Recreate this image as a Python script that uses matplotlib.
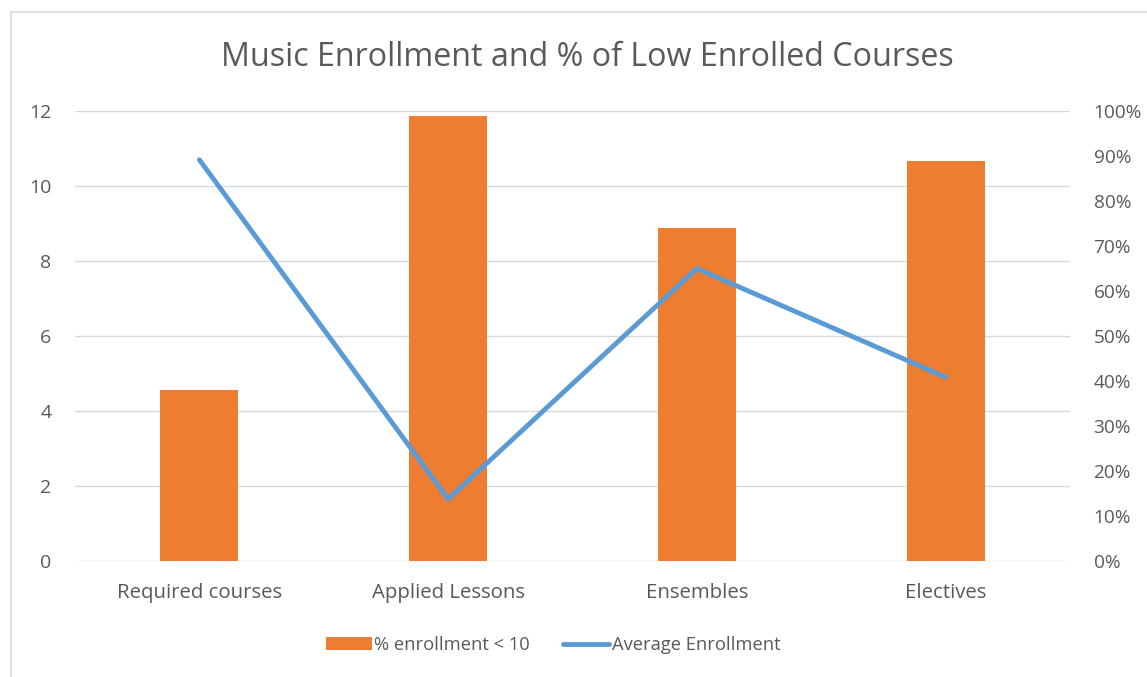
import matplotlib
matplotlib.use("Agg")
import matplotlib.pyplot as plt
from matplotlib.lines import Line2D
from matplotlib.patches import Patch
from matplotlib.ticker import FuncFormatter, MultipleLocator
import numpy as np

categories = ["Required courses", "Applied Lessons", "Ensembles", "Electives"]
pct_enrollment_under_10 = [0.38, 0.99, 0.74, 0.89]
average_enrollment = [10.7, 1.65, 7.8, 4.9]

title = "Music Enrollment and % of Low Enrolled Courses"
bar_label = "% enrollment < 10"
line_label = "Average Enrollment"

ORANGE = "#ED7D31"
BLUE = "#5B9BD5"
TEXT = "#595959"
GRID = "#D9D9D9"
FONT = "Open Sans"

plt.rcParams["font.family"] = FONT

W, H, DPI = 1147, 677, 100
fig = plt.figure(figsize=(W / DPI, H / DPI), dpi=DPI)

rect = [75 / W, 1 - 561 / H, 995 / W, 450 / H]
x = np.arange(len(categories))

# Left axis: average enrollment scale + gridlines (drawn at the back)
ax = fig.add_axes(rect)
ax.set_zorder(0)
ax.set_xlim(-0.5, len(categories) - 0.5)
ax.set_ylim(0, 12)
ax.yaxis.set_major_locator(MultipleLocator(2))
ax.grid(axis="y", color=GRID, linewidth=1.0)
for s in ax.spines.values():
    s.set_visible(False)
ax.tick_params(axis="y", length=0, pad=17, labelsize=14, labelcolor=TEXT)
ax.tick_params(axis="x", length=0, pad=16, labelsize=14.7, labelcolor=TEXT)
ax.set_xticks(x)
ax.set_xticklabels(categories)

# Right axis: percentage bars
ax2 = ax.twinx()
ax2.set_zorder(1)
ax2.patch.set_visible(False)
ax2.set_ylim(0, 1)
ax2.yaxis.set_major_locator(MultipleLocator(0.1))
ax2.yaxis.set_major_formatter(FuncFormatter(lambda v, p: f"{v * 100:.0f}%"))
for s in ax2.spines.values():
    s.set_visible(False)
ax2.tick_params(axis="y", length=0, pad=17, labelsize=13.7, labelcolor=TEXT)
ax2.bar(x, pct_enrollment_under_10, width=0.314, color=ORANGE, zorder=2)

# Overlay for the average enrollment line, sharing the left scale
ax3 = fig.add_axes(rect, sharex=ax, sharey=ax)
ax3.set_zorder(2)
ax3.patch.set_visible(False)
ax3.axis("off")
ax3.plot(x, average_enrollment, color=BLUE, linewidth=3.5,
         solid_capstyle="round", solid_joinstyle="round")

fig.text(587 / W, 1 - 57 / H, title, ha="center", va="center",
         fontsize=23.2, color=TEXT)

handles = [Patch(facecolor=ORANGE, edgecolor="none"),
           Line2D([], [], color=BLUE, linewidth=3.5, solid_capstyle="round")]
fig.legend(handles, [bar_label, line_label], loc="center",
           bbox_to_anchor=(553 / W, 1 - 645 / H), ncol=2, frameon=False,
           fontsize=13.2, labelcolor=TEXT, handlelength=2.5,
           handleheight=0.65, handletextpad=0.15, columnspacing=1.8)

# Chart-area border
fig.add_artist(Line2D([11 / W, 11 / W], [0, 1 - 12 / H], color=GRID,
                      linewidth=1.2, transform=fig.transFigure))
fig.add_artist(Line2D([11 / W, 1], [1 - 12 / H, 1 - 12 / H], color=GRID,
                      linewidth=1.2, transform=fig.transFigure))

fig.savefig("out.png", dpi=DPI, facecolor="white")
